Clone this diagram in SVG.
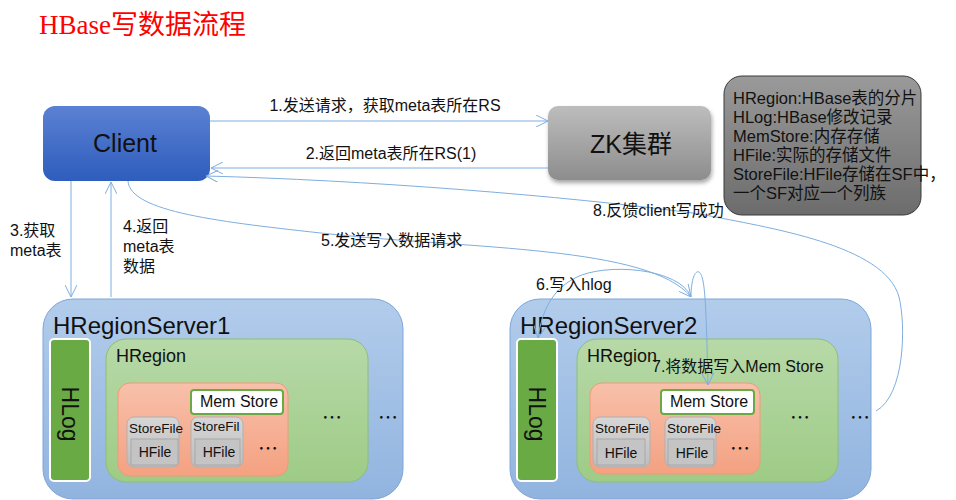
<svg xmlns="http://www.w3.org/2000/svg" width="956" height="500" viewBox="0 0 956 500">
<defs>
<linearGradient id="gClient" x1="0" y1="0" x2="0" y2="1"><stop offset="0" stop-color="#5b81d3"/><stop offset="1" stop-color="#2e5dbd"/></linearGradient>
<linearGradient id="gZK" x1="0" y1="0" x2="0" y2="1"><stop offset="0" stop-color="#bdbdbd"/><stop offset="1" stop-color="#8d8d8d"/></linearGradient>
<linearGradient id="gNote" x1="0" y1="0" x2="0" y2="1"><stop offset="0" stop-color="#9a9a9a"/><stop offset="1" stop-color="#6c6c6c"/></linearGradient>
<linearGradient id="gRS" x1="0" y1="0" x2="0" y2="1"><stop offset="0" stop-color="#b2cceb"/><stop offset="1" stop-color="#91b4df"/></linearGradient>
<linearGradient id="gReg" x1="0" y1="0" x2="0" y2="1"><stop offset="0" stop-color="#b7d9a8"/><stop offset="1" stop-color="#9ecb86"/></linearGradient>
<linearGradient id="gStore" x1="0" y1="0" x2="0" y2="1"><stop offset="0" stop-color="#f8c0aa"/><stop offset="1" stop-color="#f4a181"/></linearGradient>
<linearGradient id="gSF" x1="0" y1="0" x2="0" y2="1"><stop offset="0" stop-color="#d6d6d6"/><stop offset="1" stop-color="#bdbdbd"/></linearGradient>
<filter id="shadow" x="-10%" y="-10%" width="130%" height="140%"><feDropShadow dx="1" dy="3" stdDeviation="2" flood-color="#000" flood-opacity="0.35"/></filter>
<marker id="arr" viewBox="0 0 12 12" refX="12" refY="6" markerWidth="12" markerHeight="12" markerUnits="userSpaceOnUse" orient="auto">
<path d="M0,0 L12,6 L0,12" fill="none" stroke="#7eaee0" stroke-width="1"/>
</marker>
</defs>
<style>
text{font-family:"Liberation Sans","Noto Sans CJK SC",sans-serif;fill:#111;}
.title{font-family:"Liberation Serif","Noto Sans CJK SC",serif;font-size:27px;fill:#ff0000;}
.lbl{font-size:16px;}
.note{font-size:16.5px;}
.conn{fill:none;stroke:#7eaee0;stroke-width:1;marker-end:url(#arr);}
.rs{fill:url(#gRS);stroke:#7fa6d8;stroke-width:1;}
.rsname{font-size:24px;}
.hlog{fill:#6aaa44;stroke:#ffffff;stroke-width:2;}
.hlogt{font-size:23px;}
.reg{fill:url(#gReg);stroke:#8cc070;stroke-width:1;}
.regt{font-size:18px;}
.store{fill:url(#gStore);stroke:#f09a78;stroke-width:1;}
.mem{fill:#ffffff;stroke:#6aaa44;stroke-width:2;}
.memt{font-size:16px;}
.sf{fill:url(#gSF);stroke:#b0b0b0;stroke-width:1;}
.hf{fill:#c4c4c4;stroke:#a8a8a8;stroke-width:1;}
.sft{font-size:13.5px;}
.hft{font-size:14px;}
.dots{font-family:"Noto Sans CJK SC",sans-serif;font-size:20px;}
</style>
<rect width="956" height="500" fill="#ffffff"/>
<text class="title" x="39" y="34">HBase写数据流程</text>

<g id="client">
<rect x="43" y="106" width="167" height="75" rx="12" fill="url(#gClient)"/>
<text x="125" y="152" font-size="25" text-anchor="middle">Client</text>
</g>

<g id="zk">
<rect x="548" y="106" width="163" height="74" rx="10" fill="url(#gZK)" filter="url(#shadow)"/>
<text x="631" y="153" font-size="25" text-anchor="middle">ZK集群</text>
</g>

<g id="note">
<rect x="724" y="76" width="197" height="139" rx="18" fill="url(#gNote)" stroke="#3a3a3a" stroke-width="1"/>
<text class="note" x="733" y="104">HRegion:HBase表的分片</text>
<text class="note" x="733" y="123">HLog:HBase修改记录</text>
<text class="note" x="733" y="142">MemStore:内存存储</text>
<text class="note" x="733" y="161">HFile:实际的存储文件</text>
<text class="note" x="733" y="180">StoreFile:HFile存储在SF中，</text>
<text class="note" x="733" y="199">一个SF对应一个列族</text>
</g>

<g id="rs1">
<rect class="rs" x="43" y="299" width="360" height="200" rx="30"/>
<text class="rsname" x="53" y="334">HRegionServer1</text>
<g id="hlog1">
<rect class="hlog" x="50" y="339" width="40" height="142" rx="4"/>
<text class="hlogt" transform="translate(62,414) rotate(90)" text-anchor="middle">HLog</text>
</g>
<g id="hregion1">
<rect class="reg" x="106" y="339" width="262" height="143" rx="20"/>
<text class="regt" x="116" y="362">HRegion</text>
<rect class="store" x="118" y="383" width="170" height="93" rx="12"/>
<rect class="mem" x="191" y="390" width="92" height="24" rx="3"/>
<text class="memt" x="239" y="407" text-anchor="middle">Mem Store</text>
<rect class="sf" x="127" y="417" width="52" height="50" rx="7"/>
<text class="sft" x="129" y="433">StoreFile</text>
<rect class="hf" x="131" y="439" width="47" height="26"/>
<text class="hft" x="155" y="457" text-anchor="middle">HFile</text>
<rect class="sf" x="191" y="417" width="52" height="50" rx="7"/>
<text class="sft" x="193" y="431">StoreFil</text>
<rect class="hf" x="195" y="439" width="45" height="26"/>
<text class="hft" x="219" y="457" text-anchor="middle">HFile</text>
<text class="dots" x="258" y="456">…</text>
<text class="dots" x="322" y="425">…</text>
</g>
<text class="dots" x="378" y="425">…</text>
</g>

<g id="rs2">
<rect class="rs" x="510" y="299" width="361" height="200" rx="30"/>
<text class="rsname" x="520" y="334">HRegionServer2</text>
<g id="hlog2">
<rect class="hlog" x="517" y="339" width="40" height="142" rx="4"/>
<text class="hlogt" transform="translate(529,414) rotate(90)" text-anchor="middle">HLog</text>
</g>
<g id="hregion2">
<rect class="reg" x="577" y="339" width="261" height="143" rx="20"/>
<text class="regt" x="587" y="362">HRegion</text>
<rect class="store" x="590" y="383" width="170" height="91" rx="12"/>
<rect class="mem" x="661" y="390" width="93" height="24" rx="3"/>
<text class="memt" x="709" y="407" text-anchor="middle">Mem Store</text>
<rect class="sf" x="593" y="417" width="57" height="50" rx="7"/>
<text class="sft" x="595" y="433">StoreFile</text>
<rect class="hf" x="597" y="439" width="48" height="26"/>
<text class="hft" x="621" y="458" text-anchor="middle">HFile</text>
<rect class="sf" x="665" y="417" width="51" height="50" rx="7"/>
<text class="sft" x="667" y="433">StoreFile</text>
<rect class="hf" x="668" y="439" width="46" height="26"/>
<text class="hft" x="692" y="458" text-anchor="middle">HFile</text>
<text class="dots" x="730" y="456">…</text>
<text class="dots" x="790" y="425">…</text>
</g>
<text class="dots" x="850" y="425">…</text>
</g>

<g id="connectors">
<path class="conn" d="M210,121 L548,121"/>
<text class="lbl" x="385" y="111" text-anchor="middle">1.发送请求，获取meta表所在RS</text>
<path class="conn" d="M548,168 L211,168"/>
<text class="lbl" x="391" y="159" text-anchor="middle">2.返回meta表所在RS(1)</text>
<path class="conn" d="M71,181 L71,297"/>
<text class="lbl" x="10" y="236">3.获取</text>
<text class="lbl" x="10" y="256">meta表</text>
<path class="conn" d="M111,297 L111,182"/>
<text class="lbl" x="123" y="232">4.返回</text>
<text class="lbl" x="123" y="252">meta表</text>
<text class="lbl" x="123" y="272">数据</text>
<path class="conn" d="M128,181 C130,212 220,222 330,234 C470,249 650,246 691,297"/>
<text class="lbl" x="321" y="246">5.发送写入数据请求</text>
<path class="conn" d="M691,297 C680,268 605,262 575,278 C548,292 541,318 538,338"/>
<text class="lbl" x="536" y="290">6.写入hlog</text>
<path class="conn" d="M691,297 C691,280 695,270 699,272 C705,276 706,300 708,385"/>
<text class="lbl" x="652" y="372">7.将数据写入Mem Store</text>
<path class="conn" d="M876,411 C905,395 906,325 899,297 C885,245 770,228 700,214 C560,195 360,180 206,176"/>
<text class="lbl" x="593" y="216">8.反馈client写成功</text>
</g>
</svg>
